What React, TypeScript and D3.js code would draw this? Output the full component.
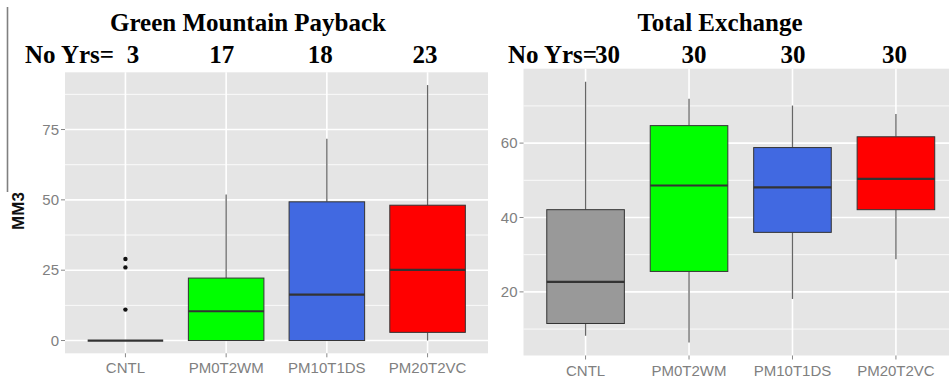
import React from "react";
import * as d3 from "d3";

// Treatment groups shared by both panels
const categories = ["CNTL", "PM0T2WM", "PM10T1DS", "PM20T2VC"];

// Green Mountain Payback (MM3) box statistics
const gmpLow = [0, 0, 0, 0];
const gmpQ1 = [0, 0, 0, 2.9];
const gmpMedian = [0, 10.4, 16.3, 25.1];
const gmpQ3 = [0, 22.2, 49.3, 48.1];
const gmpHigh = [0, 51.9, 71.7, 90.8];
const gmpOutliers = [[11, 26, 29], [], [], []];
const gmpYears = [3, 17, 18, 23];
const gmpTicks = [0, 25, 50, 75];

// Total Exchange box statistics
const teLow = [8.2, 6.4, 18.1, 28.8];
const teQ1 = [11.5, 25.5, 36.0, 42.1];
const teMedian = [22.7, 48.6, 48.1, 50.4];
const teQ3 = [42.1, 64.7, 58.8, 61.7];
const teHigh = [76.5, 71.9, 70.1, 67.8];
const teOutliers = [[], [], [], []];
const teYears = [30, 30, 30, 30];
const teTicks = [20, 40, 60];

const gmpFills = ["#ffffff", "#00ff00", "#4169e1", "#ff0000"];
const teFills = ["#999999", "#00ff00", "#4169e1", "#ff0000"];

const W = 949;
const H = 379;
const SANS = "'Liberation Sans', Arial, sans-serif";
const SERIF = "'Liberation Serif', 'Times New Roman', serif";

type PanelProps = {
  x0: number;
  x1: number;
  y0: number;
  y1: number;
  low: number[];
  q1: number[];
  median: number[];
  q3: number[];
  high: number[];
  outliers: number[][];
  fills: string[];
  ticks: number[];
  minorStep: number;
};

function Panel(p: PanelProps) {
  const x = d3.scalePoint<string>().domain(categories).range([p.x0, p.x1]).padding(0.6);
  const lo = d3.min(p.low.concat(p.outliers.flat())) as number;
  const hi = d3.max(p.high.concat(p.outliers.flat())) as number;
  const pad = (hi - lo) * 0.05;
  const y = d3.scaleLinear().domain([lo - pad, hi + pad]).range([p.y1, p.y0]);
  const step = x.step();
  const bw = step * 0.75;

  const minor: number[] = [];
  const [d0, d1] = y.domain();
  for (let v = p.ticks[0] - p.minorStep; v <= d1; v += p.minorStep * 2) {
    if (v >= d0) minor.push(v);
  }
  if (p.ticks[p.ticks.length - 1] + p.minorStep <= d1) {
    // covered by loop above
  }

  return (
    <g>
      <rect x={p.x0} y={p.y0} width={p.x1 - p.x0} height={p.y1 - p.y0} fill="#e5e5e5" />
      {minor.map((v) => (
        <line key={"mn" + v} x1={p.x0} x2={p.x1} y1={y(v)} y2={y(v)} stroke="#ffffff" strokeWidth={0.8} />
      ))}
      {p.ticks.map((v) => (
        <line key={"mj" + v} x1={p.x0} x2={p.x1} y1={y(v)} y2={y(v)} stroke="#ffffff" strokeWidth={1.6} />
      ))}
      {categories.map((c) => (
        <line key={"vg" + c} x1={x(c)} x2={x(c)} y1={p.y0} y2={p.y1} stroke="#ffffff" strokeWidth={1.6} />
      ))}
      {categories.map((c, i) => {
        const cx = x(c) as number;
        return (
          <g key={"box" + c}>
            <line x1={cx} x2={cx} y1={y(p.q3[i])} y2={y(p.high[i])} stroke="#666666" strokeWidth={1.3} />
            <line x1={cx} x2={cx} y1={y(p.q1[i])} y2={y(p.low[i])} stroke="#666666" strokeWidth={1.3} />
            <rect
              x={cx - bw / 2}
              y={y(p.q3[i])}
              width={bw}
              height={Math.max(0, y(p.q1[i]) - y(p.q3[i]))}
              fill={p.fills[i]}
              stroke="#333333"
              strokeWidth={1}
            />
            <line x1={cx - bw / 2} x2={cx + bw / 2} y1={y(p.median[i])} y2={y(p.median[i])} stroke="#333333" strokeWidth={2.2} />
            {p.outliers[i].map((v) => (
              <circle key={"o" + v} cx={cx} cy={y(v)} r={2.2} fill="#111111" />
            ))}
          </g>
        );
      })}
      {p.ticks.map((v) => (
        <g key={"yt" + v}>
          <line x1={p.x0 - 4} x2={p.x0} y1={y(v)} y2={y(v)} stroke="#888888" strokeWidth={1} />
          <text x={p.x0 - 6} y={y(v)} dy="0.35em" textAnchor="end" fontFamily={SANS} fontSize={15} fill="#808080">
            {v}
          </text>
        </g>
      ))}
      {categories.map((c) => (
        <g key={"xt" + c}>
          <line x1={x(c)} x2={x(c)} y1={p.y1} y2={p.y1 + 4} stroke="#888888" strokeWidth={1} />
          <text x={x(c)} y={p.y1 + 20} textAnchor="middle" fontFamily={SANS} fontSize={15} fill="#808080">
            {c}
          </text>
        </g>
      ))}
    </g>
  );
}

type HeaderProps = {
  title: string;
  titleX: number;
  years: number[];
  labelX: number;
  yearX: number[];
};

function Header(h: HeaderProps) {
  return (
    <g fontFamily={SERIF} fontWeight="bold" fill="#000000">
      <text x={h.titleX} y={31} textAnchor="middle" fontSize={25}>
        {h.title}
      </text>
      <text x={h.labelX} y={63} textAnchor="start" fontSize={25}>
        No Yrs=
      </text>
      {h.years.map((n, i) => (
        <text key={i} x={h.yearX[i]} y={63} textAnchor="middle" fontSize={25}>
          {n}
        </text>
      ))}
    </g>
  );
}

export default function App() {
  const left = { x0: 65, x1: 488, y0: 72.3, y1: 353.3 };
  const right = { x0: 523.5, x1: 958, y0: 68.7, y1: 355.5 };
  const xl = d3.scalePoint<string>().domain(categories).range([left.x0, left.x1]).padding(0.6);
  const xr = d3.scalePoint<string>().domain(categories).range([right.x0, right.x1]).padding(0.6);
  const leftNudge = [7.5, -4.5, -6.5, -2.5];
  const rightNudge = [22, 5, 0.5, -1.5];

  return (
    <svg
      width={W}
      height={H}
      viewBox={`0 0 ${W} ${H}`}
      style={{ position: "absolute", left: 0, top: 0, background: "#ffffff", display: "block" }}
    >
      <rect x={0} y={0} width={W} height={H} fill="#ffffff" />
      <line x1={7.5} x2={7.5} y1={7} y2={192} stroke="#808080" strokeWidth={1.6} />
      <text
        transform="translate(24,211) rotate(-90)"
        textAnchor="middle"
        fontFamily={SANS}
        fontWeight="bold"
        fontSize={17}
        fill="#111111"
      >
        MM3
      </text>
      <Panel
        {...left}
        low={gmpLow}
        q1={gmpQ1}
        median={gmpMedian}
        q3={gmpQ3}
        high={gmpHigh}
        outliers={gmpOutliers}
        fills={gmpFills}
        ticks={gmpTicks}
        minorStep={12.5}
      />
      <Panel
        {...right}
        low={teLow}
        q1={teQ1}
        median={teMedian}
        q3={teQ3}
        high={teHigh}
        outliers={teOutliers}
        fills={teFills}
        ticks={teTicks}
        minorStep={10}
      />
      <Header
        title="Green Mountain Payback"
        titleX={248}
        years={gmpYears}
        labelX={25}
        yearX={categories.map((c, i) => (xl(c) as number) + leftNudge[i])}
      />
      <Header
        title="Total Exchange"
        titleX={720}
        years={teYears}
        labelX={508}
        yearX={categories.map((c, i) => (xr(c) as number) + rightNudge[i])}
      />
    </svg>
  );
}
